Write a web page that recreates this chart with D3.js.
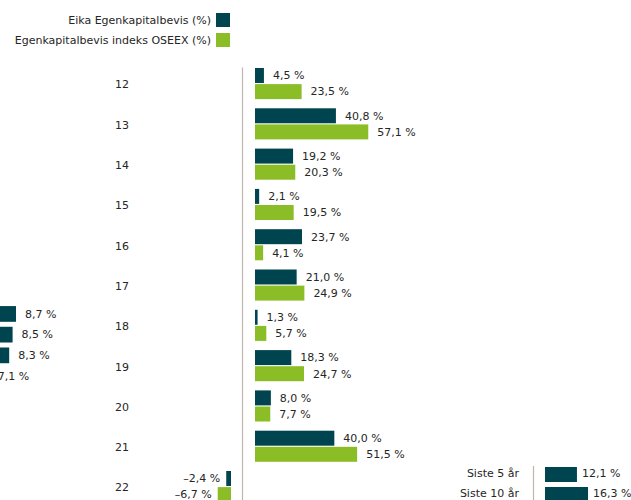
<!DOCTYPE html>
<html>
<head>
<meta charset="utf-8">
<script src="https://cdn.jsdelivr.net/npm/d3@7"></script>
<style>
    body { margin: 0; background: #fff; }
    svg { display: block; font-family: 'DejaVu Sans', sans-serif; font-size: 11px; }
</style>
</head>
<body>
<div id="chart"></div>
<script>
// main chart: yearly returns
const years = ['12', '13', '14', '15', '16', '17', '18', '19', '20', '21', '22'];
const seriesNames = ['Eika Egenkapitalbevis (%)', 'Egenkapitalbevis indeks OSEEX (%)'];
const eikaValues = [4.5, 40.8, 19.2, 2.1, 23.7, 21.0, 1.3, 18.3, 8.0, 40.0, -2.4];
const oseexValues = [23.5, 57.1, 20.3, 19.5, 4.1, 24.9, 5.7, 24.7, 7.7, 51.5, -6.7];

// small chart bottom right: annualised returns
const periodLabels = ['Siste 5 år', 'Siste 10 år'];
const periodValues = [12.1, 16.3];

// cropped chart at the left edge
const leftValues = [8.7, 8.5, 8.3, 7.1];

const colors = ['#00444f', '#8bbd26'];
const textColor = '#262626';
const width = 631;
const height = 500;

const locale = d3.formatLocale({
    decimal: ',',
    thousands: ' ',
    grouping: [3],
    currency: ['', ' kr'],
    minus: '\u2013',
});
const fmt = v => `${locale.format('.1f')(v)} %`;

const svg = d3.select('#chart')
    .append('svg')
    .attr('width', width)
    .attr('height', height);

// legend
const legend = svg.append('g')
    .selectAll('g')
    .data(seriesNames)
    .join('g')
    .attr('transform', (d, i) => `translate(230,${20 + i * 20})`);

legend.append('rect')
    .attr('x', -14)
    .attr('y', -7)
    .attr('width', 14)
    .attr('height', 14)
    .attr('fill', (d, i) => colors[i]);

legend.append('text')
    .attr('x', -19)
    .attr('dy', '0.35em')
    .attr('text-anchor', 'end')
    .attr('fill', textColor)
    .text(d => d);

// main chart
const rows = years.map((year, i) => ({ year, values: [eikaValues[i], oseexValues[i]] }));

const y0 = d3.scaleBand()
    .domain(years)
    .range([63.4, 63.4 + years.length * 40.3]);

const y1 = d3.scaleBand()
    .domain([0, 1])
    .range([4.6, 35.7])
    .paddingInner(0.07);

const x = d3.scaleLinear()
    .domain([0, 60])
    .range([0, 119]);

const posZero = 255;
const negZero = 231;

svg.append('line')
    .attr('x1', 242.5)
    .attr('x2', 242.5)
    .attr('y1', y0('12') + 4)
    .attr('y2', height)
    .attr('stroke', '#bdb5b0')
    .attr('stroke-width', 1.2);

const row = svg.append('g')
    .selectAll('g')
    .data(rows)
    .join('g')
    .attr('transform', d => `translate(0,${y0(d.year)})`);

row.append('text')
    .attr('x', 129)
    .attr('y', y0.bandwidth() / 2 + 1)
    .attr('dy', '0.35em')
    .attr('text-anchor', 'end')
    .attr('fill', textColor)
    .text(d => d.year);

const bar = row.selectAll('g')
    .data(d => d.values.map((v, i) => ({ v, i })))
    .join('g');

bar.append('rect')
    .attr('x', d => (d.v >= 0 ? posZero : negZero - x(-d.v)))
    .attr('y', d => y1(d.i))
    .attr('width', d => x(Math.abs(d.v)))
    .attr('height', y1.bandwidth())
    .attr('fill', d => colors[d.i]);

bar.append('text')
    .attr('x', d => (d.v >= 0 ? posZero + x(d.v) + 9 : negZero - x(-d.v) - 6))
    .attr('y', d => y1(d.i) + y1.bandwidth() / 2)
    .attr('dy', '0.35em')
    .attr('text-anchor', d => (d.v >= 0 ? 'start' : 'end'))
    .attr('fill', textColor)
    .text(d => fmt(d.v));

// small chart, bottom right
const yp = d3.scaleBand()
    .domain(periodLabels)
    .range([467, 502])
    .paddingInner(0.25);

const xp = d3.scaleLinear()
    .domain([0, 20])
    .range([0, 52.8]);

const period = svg.append('g');

period.append('line')
    .attr('x1', 533.5)
    .attr('x2', 533.5)
    .attr('y1', 466)
    .attr('y2', height)
    .attr('stroke', '#bdb5b0')
    .attr('stroke-width', 1.2);

const prow = period.selectAll('g')
    .data(periodLabels.map((label, i) => ({ label, v: periodValues[i] })))
    .join('g')
    .attr('transform', d => `translate(0,${yp(d.label)})`);

prow.append('text')
    .attr('x', 519)
    .attr('y', yp.bandwidth() / 2 - 1)
    .attr('dy', '0.35em')
    .attr('text-anchor', 'end')
    .attr('fill', textColor)
    .text(d => d.label);

prow.append('rect')
    .attr('x', 545)
    .attr('width', d => xp(d.v))
    .attr('height', yp.bandwidth())
    .attr('fill', colors[0]);

prow.append('text')
    .attr('x', d => 545 + xp(d.v) + 5)
    .attr('y', yp.bandwidth() / 2 - 1)
    .attr('dy', '0.35em')
    .attr('fill', textColor)
    .text(d => fmt(d.v));

// cropped chart on the left edge
const yl = d3.scaleBand()
    .domain(d3.range(leftValues.length))
    .range([304, 304 + leftValues.length * 20.5])
    .paddingInner(0.24)
    .paddingOuter(0.1);

const xl = d3.scaleLinear()
    .domain([0, 8.7])
    .range([-132, 16]);

const lrow = svg.append('g')
    .selectAll('g')
    .data(leftValues)
    .join('g')
    .attr('transform', (d, i) => `translate(0,${yl(i)})`);

lrow.append('rect')
    .attr('x', xl(0))
    .attr('width', d => xl(d) - xl(0))
    .attr('height', yl.bandwidth())
    .attr('fill', colors[0]);

lrow.append('text')
    .attr('x', d => xl(d) + 9)
    .attr('y', yl.bandwidth() / 2)
    .attr('dy', '0.35em')
    .attr('fill', textColor)
    .text(d => fmt(d));
</script>
</body>
</html>
